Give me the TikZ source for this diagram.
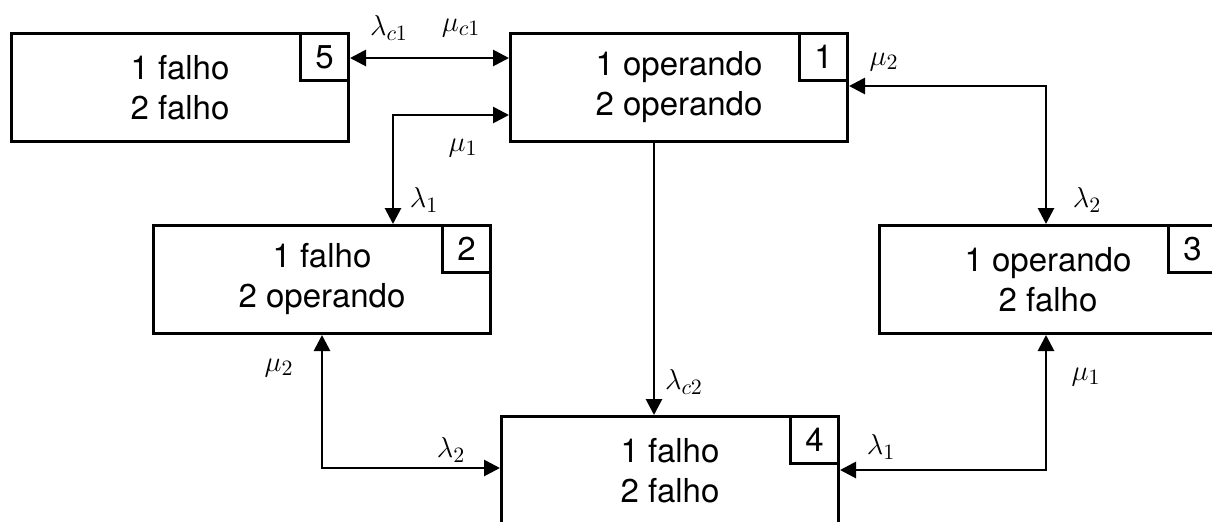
\documentclass[tikz,border=0pt]{standalone}
\usepackage{fontspec}
\setmainfont{TeX Gyre Heros}
\usetikzlibrary{arrows.meta}

\begin{document}
\begin{tikzpicture}[x=0.5pt,y=-0.5pt,
    state/.style={draw, line width=1.5pt, anchor=north west, minimum width=168.5pt,
      minimum height=54pt, inner sep=0pt, align=center,
      font=\fontsize{16.5}{20}\selectfont},
    num/.style={draw, line width=1.5pt, anchor=north east, minimum width=24pt,
      minimum height=23.5pt, inner sep=0pt, font=\fontsize{16.5}{18}\selectfont},
    link/.style={line width=1.4pt},
    rate/.style={font=\fontsize{15}{17}\selectfont, inner sep=0pt},
    >={Triangle[length=8pt,width=8pt]}]
      \useasboundingbox (0,0) rectangle (1212,521);

      % estados
      \node (s5) at (10,32)  [state] {1 falho\\2 falho};
      \node (s1) at (509,32) [state] {1 operando\\2 operando};
      \node (s2) at (152,224) [state] {1 falho\\2 operando};
      \node (s3) at (878,224) [state] {1 operando\\2 falho};
      \node (s4) at (500,415) [state] {1 falho\\2 falho};

      \node (n5) at (s5.north east) [num] {5};
      \node (n1) at (s1.north east) [num] {1};
      \node (n2) at (s2.north east) [num] {2};
      \node (n3) at (s3.north east) [num] {3};
      \node (n4) at (s4.north east) [num] {4};

      % pontos de dobra
      \coordinate (k51) at (430,58);
      \coordinate (k12) at (393,115);
      \coordinate (k13) at (1046,86);
      \coordinate (k14) at (654,280);
      \coordinate (k24) at (322,468);
      \coordinate (k34) at (1046,470);

      % transicoes
      \draw[link,<->] (s5.east |- k51) -- (s1.west |- k51);
      \draw[link,<->] (s1.west |- k12) -- (k12) -- (s2.north -| k12);
      \draw[link,<->] (s1.east |- k13) -- (k13) -- (s3.north -| k13);
      \draw[link,->] (s1.south -| k14) -- (s4.north -| k14);
      \draw[link,<->] (s2.south -| k24) -- (k24) -- (s4.west |- k24);
      \draw[link,<->] (s3.south -| k34) -- (k34) -- (s4.east |- k34);

      % taxas
      \node (lc1) at (389,28)  [rate] {$\lambda_{c1}$};
      \node (mc1) at (461,28)  [rate] {$\mu_{c1}$};
      \node (m1a) at (463,148) [rate] {$\mu_1$};
      \node (l1a) at (424,200) [rate] {$\lambda_1$};
      \node (m2a) at (884,62)  [rate] {$\mu_2$};
      \node (l2a) at (1087,200) [rate] {$\lambda_2$};
      \node (lc2) at (684,382) [rate] {$\lambda_{c2}$};
      \node (m2b) at (279,368) [rate] {$\mu_2$};
      \node (l2b) at (451,450) [rate] {$\lambda_2$};
      \node (l1b) at (881,447) [rate] {$\lambda_1$};
      \node (m1b) at (1086,377) [rate] {$\mu_1$};
\end{tikzpicture}
\end{document}
